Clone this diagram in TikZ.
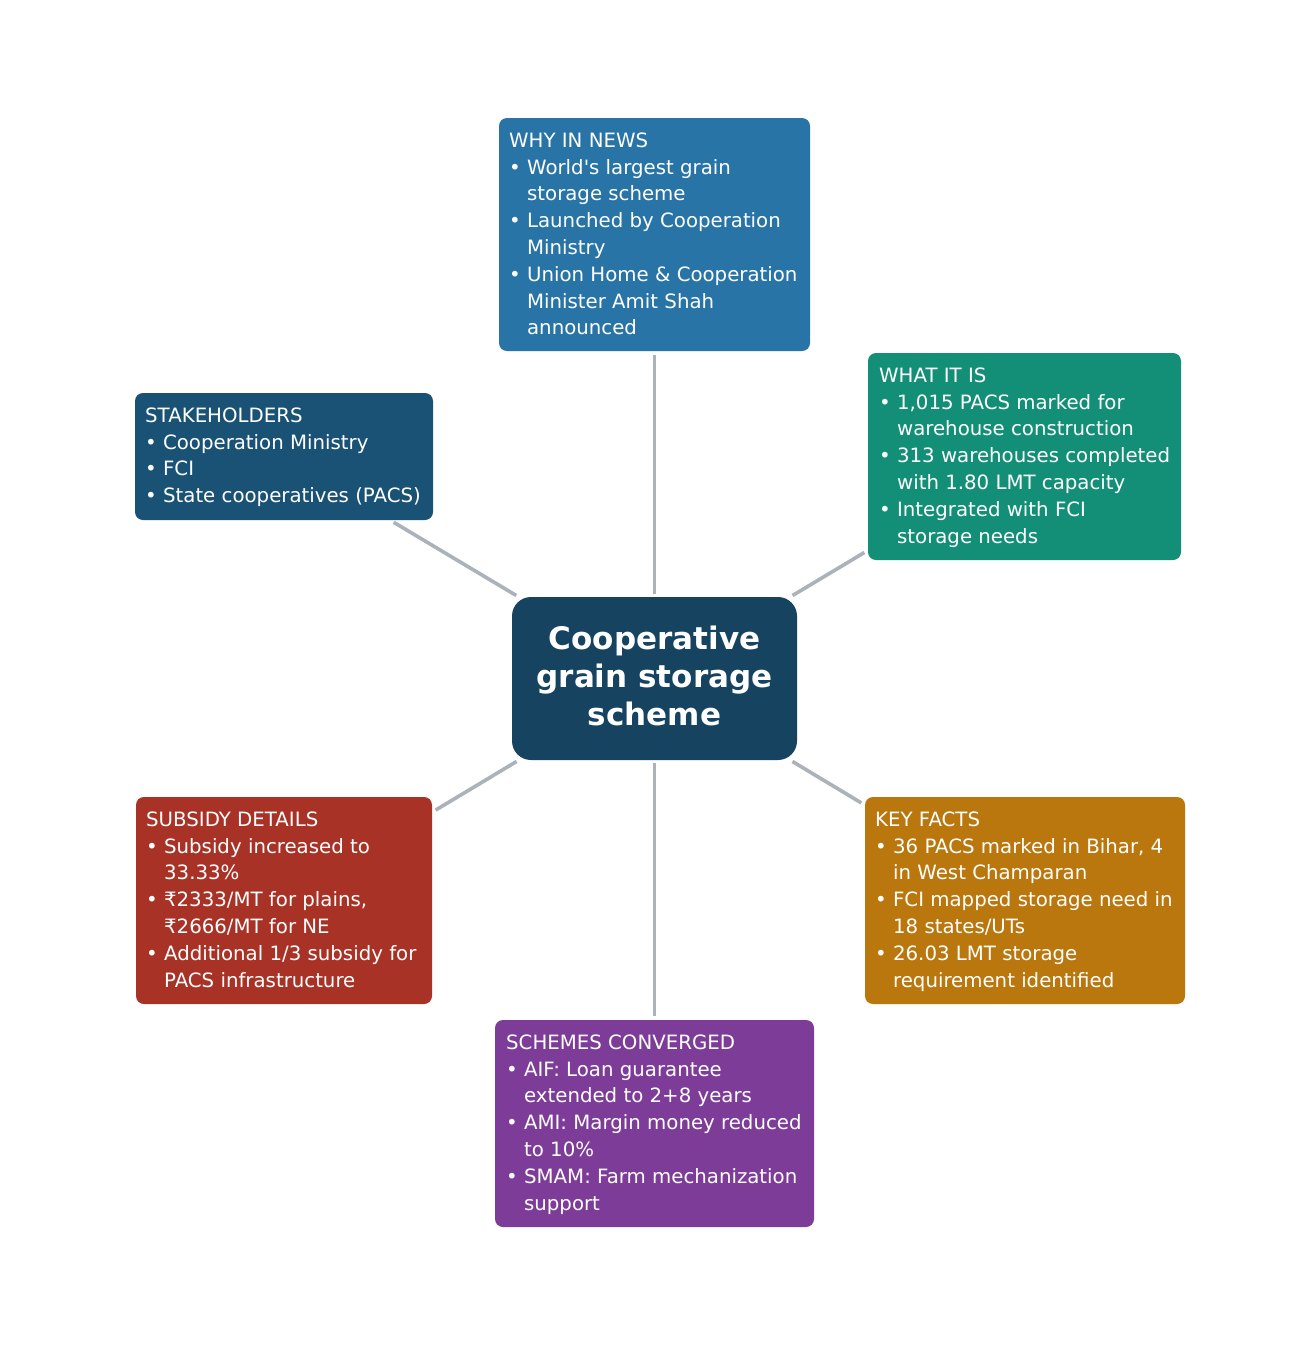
\documentclass[tikz,border=0pt]{standalone}
\usepackage{fontspec}
\setmainfont{DejaVu Sans}
\definecolor{cWhy}{HTML}{2874A6}
\definecolor{cWhat}{HTML}{148F77}
\definecolor{cStake}{HTML}{1A5276}
\definecolor{cCenter}{HTML}{154360}
\definecolor{cSub}{HTML}{A93226}
\definecolor{cKey}{HTML}{B9770E}
\definecolor{cSch}{HTML}{7D3C98}
\definecolor{cLine}{HTML}{ABB2B9}
\newcommand{\ind}{\hphantom{• }}
\newcommand{\fs}{\rule{0pt}{16pt}}
\begin{document}
\begin{tikzpicture}[x=1pt,y=-1pt,
  box/.style={rounded corners=8pt, inner sep=0pt, draw=none},
  txt/.style={anchor=north west, inner sep=0pt, align=left, text=white,
    font=\fontsize{19.75}{26.8}\selectfont},
  link/.style={draw=cLine, line width=3.6pt, shorten >=4pt, shorten <=2.5pt}]
\useasboundingbox (0,0) rectangle (1308,1358);
\fill[white] (0,0) rectangle (1308,1358);

% boxes
\node[box, fill=cWhy, minimum width=311pt, minimum height=233pt] (why) at (654.5,234.5) {};
\node[box, fill=cWhat, minimum width=313pt, minimum height=207pt] (what) at (1024.5,456.5) {};
\node[box, fill=cStake, minimum width=298pt, minimum height=127pt] (stake) at (284,456.5) {};
\node[box, fill=cSub, minimum width=296pt, minimum height=207pt] (sub) at (284,900.5) {};
\node[box, fill=cKey, minimum width=320pt, minimum height=207pt] (key) at (1025,900.5) {};
\node[box, fill=cSch, minimum width=319pt, minimum height=207pt] (sch) at (654.5,1123.5) {};
\node[box, rounded corners=19pt, fill=cCenter, minimum width=285pt, minimum height=163pt] (c) at (654.5,678.5) {};
\node[text=white, align=center, inner sep=0pt, font=\bfseries\fontsize{31}{38}\selectfont] (ct) at (654.5,676)
  {Cooperative\\grain storage\\scheme};

% connectors
\draw[link] (c) -- (why);
\draw[link] (c) -- (what);
\draw[link] (c) -- (stake);
\draw[link] (c) -- (sub);
\draw[link] (c) -- (key);
\draw[link] (c) -- (sch);

% texts
\node[txt] (twhy) at (509,131) {\fs WHY IN NEWS\\
• World\textquotesingle s largest grain\\
\ind storage scheme\\
• Launched by Cooperation\\
\ind Ministry\\
• Union Home \& Cooperation\\
\ind Minister Amit Shah\\
\ind announced};

\node[txt] (twhat) at (879,366) {\fs WHAT IT IS\\
• 1,015 PACS marked for\\
\ind warehouse construction\\
• 313 warehouses completed\\
\ind with 1.80 LMT capacity\\
• Integrated with FCI\\
\ind storage needs};

\node[txt] (tstake) at (145,406) {\fs STAKEHOLDERS\\
• Cooperation Ministry\\
• FCI\\
• State cooperatives (PACS)};

\node[txt] (tsub) at (146,810) {\fs SUBSIDY DETAILS\\
• Subsidy increased to\\
\ind 33.33\%\\
• ₹2333/MT for plains,\\
\ind ₹2666/MT for NE\\
• Additional 1/3 subsidy for\\
\ind PACS infrastructure};

\node[txt] (tkey) at (875,810) {\fs KEY FACTS\\
• 36 PACS marked in Bihar, 4\\
\ind in West Champaran\\
• FCI mapped storage need in\\
\ind 18 states/UTs\\
• 26.03 LMT storage\\
\ind requirement identified};

\node[txt] (tsch) at (506,1033) {\fs SCHEMES CONVERGED\\
• AIF: Loan guarantee\\
\ind extended to 2+8 years\\
• AMI: Margin money reduced\\
\ind to 10\%\\
• SMAM: Farm mechanization\\
\ind support};
\end{tikzpicture}
\end{document}
